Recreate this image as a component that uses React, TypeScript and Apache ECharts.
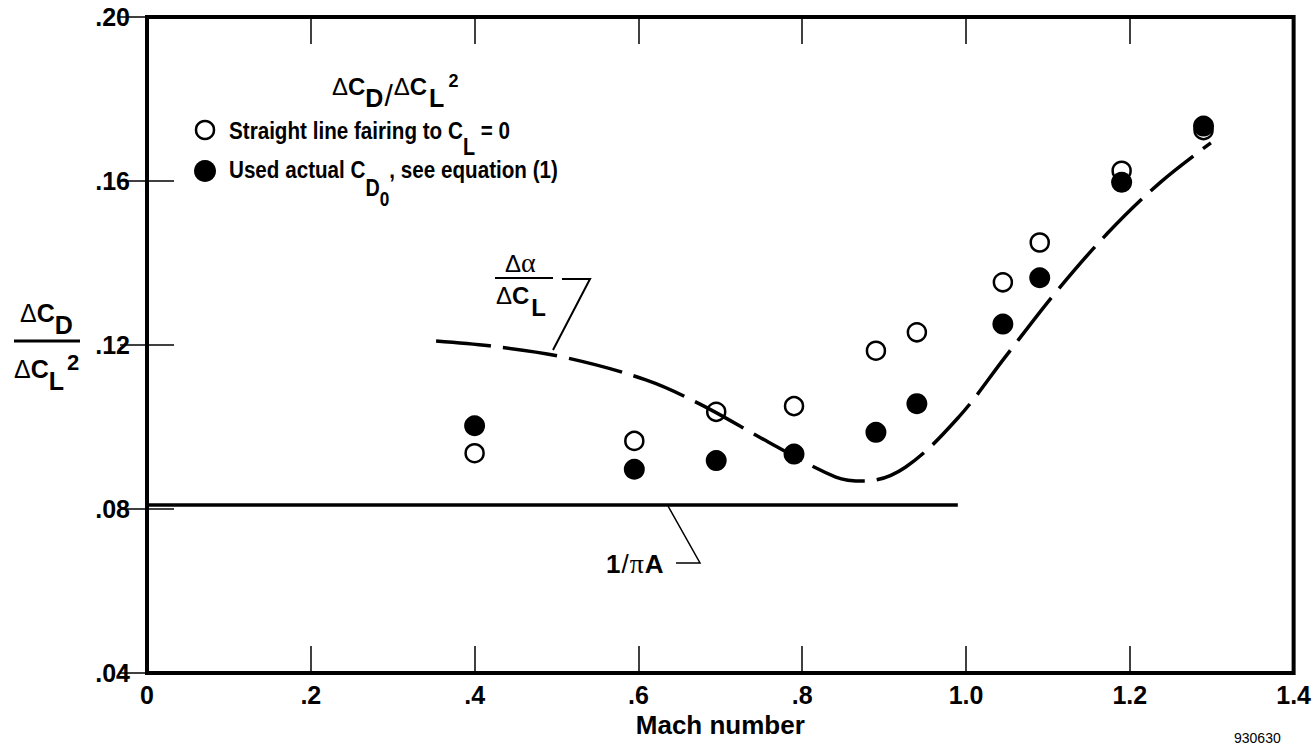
import React, { useEffect, useRef } from "react";
import * as echarts from "echarts";

// ---- data ----
const machTickLabels = ["0", ".2", ".4", ".6", ".8", "1.0", "1.2", "1.4"];
const ratioTickLabels = [".04", ".08", ".12", ".16", ".20"];

const pointMach = [0.4, 0.595, 0.695, 0.79, 0.89, 0.94, 1.045, 1.09, 1.19, 1.29];
const fairingRatio = [0.0936, 0.0966, 0.1037, 0.1051, 0.1186, 0.1231, 0.1353, 0.145, 0.1625, 0.1724];
const actualRatio = [0.1003, 0.0897, 0.0918, 0.0934, 0.0987, 0.1057, 0.1251, 0.1364, 0.1597, 0.1734];

const alphaCurveMach = [0.353, 0.418, 0.507, 0.609, 0.677, 0.759, 0.841, 0.876, 0.926, 0.991, 1.048, 1.109, 1.173, 1.238, 1.299];
const alphaCurveRatio = [0.121, 0.1198, 0.1171, 0.1115, 0.1054, 0.0963, 0.0878, 0.0868, 0.0902, 0.1024, 0.1171, 0.1327, 0.1473, 0.1598, 0.1693];

const inducedMach = [0, 0.99];
const inducedRatio = [0.081, 0.081];

// ---- text helpers ----
const SANS = "'Liberation Sans', Arial, Helvetica, sans-serif";
const SERIF = "'Liberation Serif', 'DejaVu Serif', serif";
let measureCtx: CanvasRenderingContext2D | null = null;
function measure(t: string, s: number, w: string, f: string) {
  if (!measureCtx) measureCtx = document.createElement("canvas").getContext("2d");
  if (!measureCtx) return t.length * s * 0.55;
  measureCtx.font = `${w} ${s}px ${f}`;
  return measureCtx.measureText(t).width;
}
type Run = { t: string; s: number; dy?: number; w?: string; f?: string; gap?: number };
function runGroup(x: number, baseline: number, parts: Run[], scaleX = 1) {
  const children: any[] = [];
  let cx = 0;
  for (const p of parts) {
    cx += p.gap ?? 0;
    const w = p.w ?? "bold";
    const f = p.f ?? SANS;
    children.push({
      type: "text",
      x: cx,
      y: (p.dy ?? 0) - 0.3465 * p.s,
      style: {
        text: p.t,
        fontSize: p.s,
        fontWeight: w,
        fontFamily: f,
        fill: "#000",
        align: "left",
        verticalAlign: "middle",
      },
    });
    cx += measure(p.t, p.s, w, f);
  }
  return { type: "group", x, y: baseline, scaleX, children, silent: true };
}

function pairs(xs: number[], ys: number[]) {
  return xs.map((x, i) => [x, ys[i]]);
}

export default function App() {
  const ref = useRef<HTMLDivElement>(null);
  useEffect(() => {
    if (!ref.current) return;
    const chart = echarts.init(ref.current, null, { renderer: "svg" });
    const tickStyle = { show: true, inside: true, length: 27, lineStyle: { color: "#000", width: 1.5 } };
    const labelFont = { fontFamily: SANS, fontWeight: "bold" as const, fontSize: 25, color: "#000" };
    const option: any = {
      animation: false,
      backgroundColor: "#fff",
      grid: { left: 147, right: 18, top: 17, bottom: 74, show: true, borderColor: "#000", borderWidth: 4 },
      xAxis: [
        {
          type: "value",
          min: 0,
          max: 1.4,
          interval: 0.2,
          position: "bottom",
          axisLine: { show: false },
          axisTick: tickStyle,
          splitLine: { show: false },
          axisLabel: {
            ...labelFont,
            margin: 9,
            formatter: (v: number) => machTickLabels[Math.round(v / 0.2)] ?? "",
          },
          name: "Mach number",
          nameLocation: "middle",
          nameGap: 36,
          nameTextStyle: { ...labelFont, fontSize: 26 },
        },
        {
          type: "value",
          min: 0,
          max: 1.4,
          interval: 0.2,
          position: "top",
          axisLine: { show: false },
          axisTick: tickStyle,
          splitLine: { show: false },
          axisLabel: { show: false },
        },
      ],
      yAxis: [
        {
          type: "value",
          min: 0.04,
          max: 0.2,
          interval: 0.04,
          position: "left",
          axisLine: { show: false },
          axisTick: tickStyle,
          splitLine: { show: false },
          axisLabel: {
            ...labelFont,
            margin: 17,
            formatter: (v: number) => ratioTickLabels[Math.round((v - 0.04) / 0.04)] ?? "",
          },
        },
        {
          type: "value",
          min: 0.04,
          max: 0.2,
          interval: 0.04,
          position: "right",
          axisLine: { show: false },
          axisTick: tickStyle,
          splitLine: { show: false },
          axisLabel: { show: false },
        },
      ],
      series: [
        {
          name: "Straight line fairing to CL = 0",
          type: "scatter",
          data: pairs(pointMach, fairingRatio),
          symbol: "circle",
          symbolSize: 18,
          itemStyle: { color: "#fff", borderColor: "#000", borderWidth: 2.5, opacity: 1 },
          silent: true,
          z: 2,
        },
        {
          name: "Used actual CD0",
          type: "scatter",
          data: pairs(pointMach, actualRatio),
          symbol: "circle",
          symbolSize: 21,
          itemStyle: { color: "#000", opacity: 1 },
          silent: true,
          z: 3,
        },
        {
          name: "Δα/ΔCL",
          type: "line",
          data: pairs(alphaCurveMach, alphaCurveRatio),
          smooth: 0.35,
          showSymbol: false,
          lineStyle: { color: "#000", width: 3.5, type: [55, 12] },
          silent: true,
          z: 4,
        },
        {
          name: "1/πA",
          type: "line",
          data: pairs(inducedMach, inducedRatio),
          showSymbol: false,
          lineStyle: { color: "#000", width: 3.5, type: "solid" },
          silent: true,
          z: 4,
        },
      ],
      graphic: [
        // legend title
        runGroup(332, 95, [
          { t: "Δ", s: 24, w: "normal" },
          { t: "C", s: 24 },
          { t: "D", s: 25, dy: 12 },
          { t: "/", s: 30, w: "normal", dy: 11, gap: 1 },
          { t: "Δ", s: 24, w: "normal", gap: 1 },
          { t: "C", s: 24 },
          { t: "L", s: 25, dy: 12, gap: 2 },
          { t: "2", s: 18, dy: -8, gap: 4 },
        ]),
        { type: "circle", shape: { cx: 205, cy: 130, r: 9 }, style: { fill: "#fff", stroke: "#000", lineWidth: 2.5 }, silent: true },
        runGroup(229, 139, [
          { t: "Straight line fairing to C", s: 24 },
          { t: "L", s: 23, dy: 16 },
          { t: " = 0", s: 24 },
        ], 0.86),
        { type: "circle", shape: { cx: 205, cy: 171, r: 11 }, style: { fill: "#000" }, silent: true },
        runGroup(229, 178, [
          { t: "Used actual C", s: 24 },
          { t: "D", s: 23, dy: 18 },
          { t: "0", s: 20, dy: 28 },
          { t: ", see equation (1)", s: 24 },
        ], 0.86),
        // y-axis title
        runGroup(20, 322, [
          { t: "Δ", s: 25, w: "normal" },
          { t: "C", s: 25 },
          { t: "D", s: 25, dy: 12 },
        ]),
        { type: "line", shape: { x1: 14, y1: 341, x2: 80, y2: 341 }, style: { stroke: "#000", lineWidth: 3 }, silent: true },
        runGroup(14, 378, [
          { t: "Δ", s: 25, w: "normal" },
          { t: "C", s: 25 },
          { t: "L", s: 25, dy: 12 },
          { t: "2", s: 22, dy: -8, gap: 3 },
        ]),
        // Δα / ΔCL label
        runGroup(505, 272, [
          { t: "Δ", s: 24, w: "normal" },
          { t: "α", s: 28, w: "normal", f: SERIF },
        ]),
        { type: "line", shape: { x1: 495, y1: 278, x2: 553, y2: 278 }, style: { stroke: "#000", lineWidth: 2 }, silent: true },
        runGroup(496, 304, [
          { t: "Δ", s: 24, w: "normal" },
          { t: "C", s: 24 },
          { t: "L", s: 24, dy: 12, gap: 2 },
        ]),
        { type: "polyline", shape: { points: [[562, 279], [590, 279], [553, 350]] }, style: { stroke: "#000", lineWidth: 2, fill: "none" }, silent: true },
        // 1/πA label
        runGroup(606, 573, [
          { t: "1", s: 26 },
          { t: "/", s: 26, w: "normal", gap: 1 },
          { t: "π", s: 28, w: "normal", f: SERIF, gap: 1 },
          { t: "A", s: 26, gap: 1 },
        ]),
        { type: "polyline", shape: { points: [[668, 506], [700, 563], [676, 563]] }, style: { stroke: "#000", lineWidth: 1.5, fill: "none" }, silent: true },
        // figure number
        {
          type: "text",
          x: 1234,
          y: 738,
          style: { text: "930630", fontSize: 14, fontFamily: SANS, fill: "#000", align: "left", verticalAlign: "middle" },
          silent: true,
        },
      ],
    };
    chart.setOption(option);
    return () => chart.dispose();
  }, []);
  return (
    <div
      ref={ref}
      style={{ position: "fixed", left: 0, top: 0, width: 1314, height: 747, background: "#fff" }}
    />
  );
}
